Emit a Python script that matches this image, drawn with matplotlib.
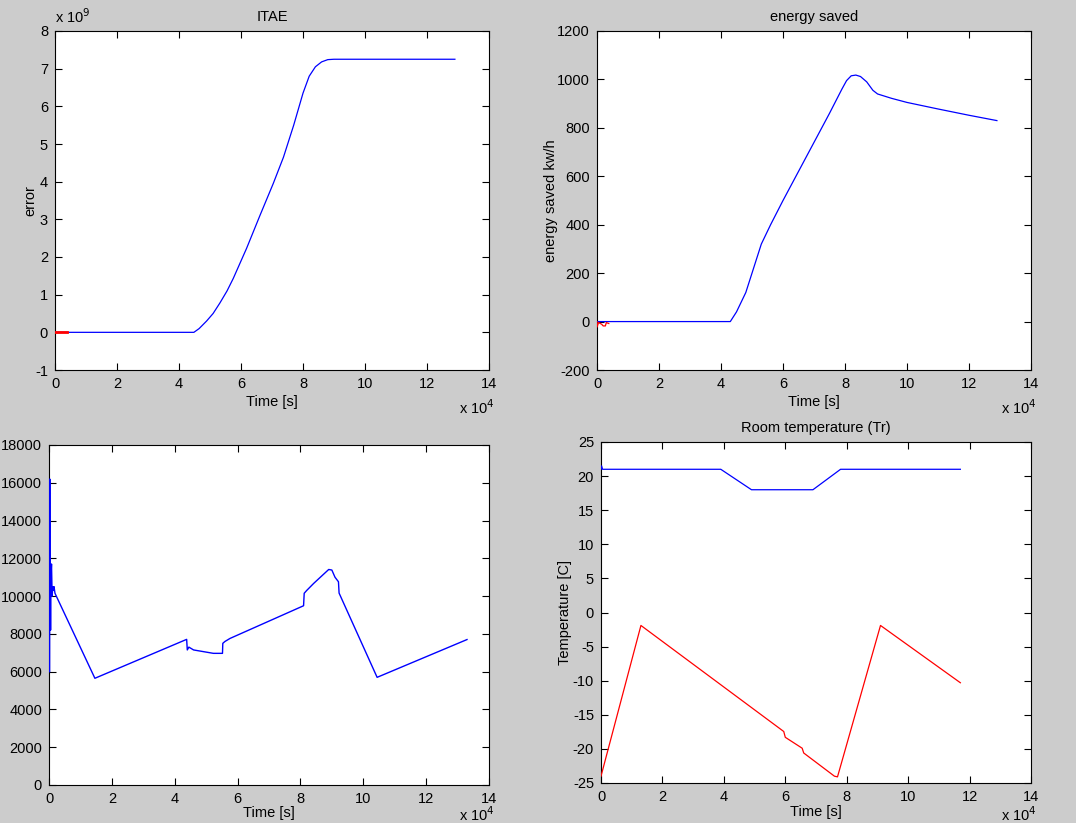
import numpy as np
import matplotlib
matplotlib.use("Agg")
import matplotlib.pyplot as plt

# ITAE (time in 1e4 s, error in 1e9)
itae_t = [0, 4.48, 4.65, 4.89, 5.1, 5.32, 5.55, 5.75, 6.18, 6.61, 7.04, 7.37, 7.7, 8.0, 8.2, 8.4, 8.6, 8.8, 9.0, 12.9]
itae_v = [0, 0.0, 0.1, 0.3, 0.5, 0.78, 1.1, 1.43, 2.23, 3.1, 3.95, 4.65, 5.5, 6.35, 6.8, 7.05, 7.18, 7.24, 7.25, 7.25]
itae_red_t = [0, 0.4]
itae_red_v = [0, 0]

# energy saved
en_t = [0, 4.3, 4.5, 4.8, 5.0, 5.3, 5.6, 6.0, 6.5, 7.0, 7.5, 7.9, 8.05, 8.2, 8.35, 8.5, 8.7, 8.9, 9.05, 9.5, 10, 11, 12, 12.9]
en_v = [0, 0, 40, 120, 200, 320, 400, 500, 620, 740, 860, 960, 995, 1015, 1018, 1012, 990, 955, 940, 922, 905, 878, 852, 830]
en_red_t = [0, 0.0, 0.05, 0.15, 0.2, 0.27, 0.3, 0.38]
en_red_v = [0, -23, -4, -11, -18, -18, -4, -8]

# bottom left signal
sig_t = [0.02, 0.025, 0.03, 0.04, 0.05, 0.06, 0.08, 0.1, 0.12, 0.14, 0.16, 0.19, 1.46, 4.38, 4.4, 4.45, 4.6, 5.23, 5.52, 5.53, 5.6, 5.76,
         8.1, 8.12, 8.2, 8.42, 8.9, 9.0, 9.1, 9.21, 9.23, 10.44, 13.3]
sig_v = [6000, 16200, 9000, 11200, 8200, 11000, 11700, 10000, 10500, 10300, 10500, 10150, 5650, 7710, 7150, 7300, 7150, 6970, 6970, 7500, 7600, 7760,
         9490, 10150, 10300, 10670, 11410, 11380, 11000, 10760, 10160, 5700, 7700]

# room temperature
tr_blue_t = [0, 0.02, 0.05, 3.9, 4.9, 6.9, 7.8, 11.7]
tr_blue_v = [21, 21.5, 21, 21, 18, 18, 21, 21]
tr_red_t = [0, 1.3, 5.95, 6.0, 6.55, 6.6, 7.6, 7.7, 9.1, 11.7]
tr_red_v = [-24, -1.9, -17.45, -18.3, -19.9, -20.6, -24, -24.1, -1.9, -10.3]

bg = '#cccccc'
fs = 10.5
plt.rcParams['font.family'] = 'Liberation Sans'
plt.rcParams['font.size'] = fs
plt.rcParams['axes.unicode_minus'] = False
plt.rcParams['path.simplify'] = False

fig = plt.figure(figsize=(10.76, 8.23), dpi=100, facecolor=bg)
W, H = 1076.0, 823.0

def mk(l, t, r, b):
    ax = fig.add_axes([l / W, (H - b) / H, (r - l) / W, (b - t) / H])
    ax.tick_params(direction='in', top=True, right=True, length=5, width=0.8, pad=5)
    for s in ax.spines.values():
        s.set_linewidth(0.8)
    return ax

def xexp(ax, dy=38):
    # MATLAB style exponent under the right end of x axis
    ax.annotate(r'x 10$^4$', xy=(1, 0), xycoords='axes fraction', xytext=(-30, -dy),
                textcoords='offset pixels', fontsize=fs, va='center')

ax1 = mk(55, 31, 489, 370)
ax1.plot(itae_t, itae_v, 'b', lw=0.9, zorder=3)
ax1.plot(itae_red_t, itae_red_v, 'r', lw=2, zorder=3)
ax1.set_xlim(0, 14)
ax1.set_ylim(-1, 8)
ax1.set_xticks(range(0, 15, 2))
ax1.set_yticks(range(-1, 9))
ax1.set_title('ITAE', fontsize=fs, pad=7)
ax1.set_xlabel('Time [s]', labelpad=3)
ax1.set_ylabel('error')
ax1.yaxis.set_label_coords(-0.041, 0.5)
ax1.text(0.0, 1.025, r'x 10$^9$', transform=ax1.transAxes, fontsize=fs)
xexp(ax1)

ax2 = mk(597, 31, 1031, 370)
ax2.plot(en_t, en_v, 'b', lw=0.9, zorder=3)
ax2.plot(en_red_t, en_red_v, 'r', lw=0.9, zorder=3)
ax2.set_xlim(0, 14)
ax2.set_ylim(-200, 1200)
ax2.set_xticks(range(0, 15, 2))
ax2.set_yticks(range(-200, 1201, 200))
ax2.set_title('energy saved', fontsize=fs, pad=7)
ax2.set_xlabel('Time [s]', labelpad=3)
ax2.set_ylabel('energy saved kw/h')
ax2.yaxis.set_label_coords(-0.089, 0.5)
xexp(ax2)

ax3 = mk(49, 445, 489, 785)
ax3.plot(sig_t, sig_v, 'b', lw=1.0, zorder=3)
ax3.set_xlim(0, 14)
ax3.set_ylim(0, 18000)
ax3.set_xticks(range(0, 15, 2))
ax3.set_yticks(range(0, 18001, 2000))
ax3.set_xlabel('Time [s]', labelpad=0)
xexp(ax3, dy=30)

ax4 = mk(601, 442, 1031, 783)
ax4.plot(tr_blue_t, tr_blue_v, 'b', lw=0.9, zorder=3)
ax4.plot(tr_red_t, tr_red_v, 'r', lw=0.9, zorder=3)
ax4.set_xlim(0, 14)
ax4.set_ylim(-25, 25)
ax4.set_xticks(range(0, 15, 2))
ax4.set_yticks(range(-25, 26, 5))
ax4.set_title('Room temperature (Tr)', fontsize=fs, pad=7)
ax4.set_xlabel('Time [s]', labelpad=1)
ax4.set_ylabel('Temperature [C]')
ax4.yaxis.set_label_coords(-0.067, 0.5)
xexp(ax4, dy=32)

fig.savefig('out.png', dpi=100, facecolor=bg)
